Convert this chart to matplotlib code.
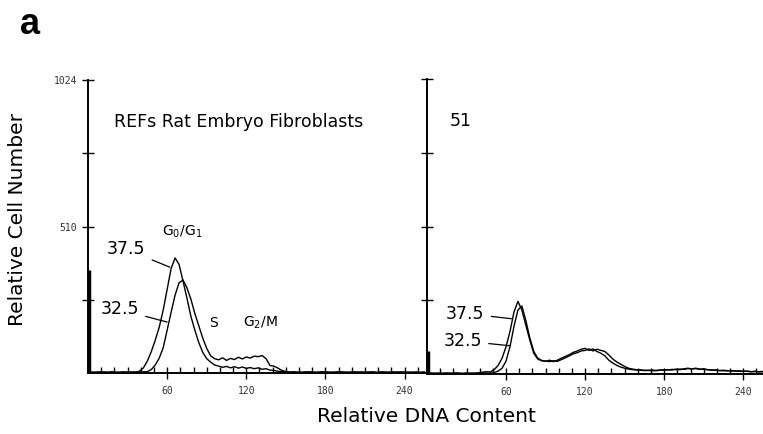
import numpy as np
import matplotlib
matplotlib.use("Agg")
import matplotlib.pyplot as plt
from matplotlib.ticker import MultipleLocator, FixedLocator

# ---------------------------------------------------------------------------
# Data (channel step 3)
# ---------------------------------------------------------------------------

channels = np.arange(0, 256, 3)

# REFs, left panel
ref_375 = [3, 2, 3, 4, 2, 3, 4, 2, 3, 3, 2, 4, 3,
           6, 18, 42, 75, 115, 160, 220, 292, 365, 402, 380, 322, 262, 198, 150, 106, 72, 50, 38, 28,
           24, 20, 23, 18, 22, 17, 21, 16, 19, 15, 18, 13, 15, 10, 9, 6, 5, 4,
           3, 4, 3, 2, 4, 3, 3, 2, 4, 3, 2, 3, 4, 3, 2, 3, 4, 3, 2, 3, 3, 4, 2, 3, 3, 2, 4, 3, 2, 3,
           3, 2, 3, 2, 3]
ref_325 = [2, 3, 2, 3, 4, 2, 3, 3, 2, 4, 3, 2, 3, 3, 4,
           5, 12, 28, 52, 88, 150, 212, 272, 315, 325, 298, 258, 208, 165, 122, 86, 60, 50,
           46, 53, 44, 51, 47, 55, 49, 56, 52, 59, 57, 61, 50, 26, 24, 17, 9, 5,
           3, 4, 2, 3, 3, 4, 2, 3, 3, 4, 3, 2, 3, 4, 3, 2, 3, 3, 4, 2, 3, 3, 2, 4, 3, 3, 2, 3, 4, 3,
           2, 3, 3, 2, 3]

# clone 51, right panel
c51_375 = [3, 2, 3, 2, 3, 3, 2, 4, 3, 2, 3, 3, 2, 4, 6, 8,
           7, 15, 30, 55, 95, 148, 215, 252, 222, 170, 118, 72, 52, 46, 44, 48, 43,
           48, 55, 61, 67, 75, 80, 86, 89, 82, 87, 78, 72, 63, 48, 38, 30, 24, 20,
           17, 15, 14, 13, 12, 13, 11, 12, 14, 13, 15, 14, 17, 15, 18, 20, 17, 19, 16, 18, 15, 14, 13,
           12, 13, 11, 12, 10, 11, 9, 10, 8, 9, 8, 9]
c51_325 = [2, 3, 2, 3, 2, 3, 3, 2, 3, 2, 3, 2, 3, 3, 4, 3,
           3, 5, 10, 20, 45, 95, 165, 222, 236, 186, 126, 79, 55, 47, 45, 43, 46,
           44, 50, 56, 63, 70, 74, 80, 82, 87, 80, 86, 82, 78, 66, 52, 42, 34, 26,
           20, 17, 15, 14, 13, 12, 14, 12, 13, 15, 14, 16, 15, 17, 16, 19, 18, 20, 17, 16, 15, 13, 14,
           12, 11, 12, 10, 11, 9, 10, 9, 8, 9, 7, 8]

# debris spike near channel 0
debris_ref = 360
debris_c51 = 80

x_major = [60, 120, 180, 240]
y_ticks = [256, 510, 768, 1024]
y_labels = ["", "510", "", "1024"]

W, H = 763, 434
TICK_FONT = dict(family="DejaVu Sans Mono", size=7, color="#333333")


def style_axis(ax, xmax, show_ylabels):
    ax.set_xlim(0, xmax)
    ax.set_ylim(0, 1024)
    for s in ("top", "right"):
        ax.spines[s].set_visible(False)
    ax.spines["left"].set_linewidth(1.4)
    ax.spines["bottom"].set_linewidth(1.4)
    ax.xaxis.set_major_locator(FixedLocator(x_major))
    ax.xaxis.set_minor_locator(MultipleLocator(10))
    ax.tick_params(axis="x", which="major", direction="inout", length=9, width=1.0, pad=5)
    ax.tick_params(axis="x", which="minor", direction="in", length=4, width=1.0)
    ax.set_xticklabels([str(v) for v in x_major], fontdict=TICK_FONT)
    ax.yaxis.set_major_locator(FixedLocator(y_ticks))
    ax.tick_params(axis="y", which="major", direction="inout", length=8, width=1.0, pad=4)
    if show_ylabels:
        ax.set_yticklabels(y_labels, fontdict=TICK_FONT)
    else:
        ax.set_yticklabels([])


fig = plt.figure(figsize=(W / 100, H / 100), dpi=100)
ax1 = fig.add_axes([88 / W, 61 / H, 339 / W, 293 / H])
ax2 = fig.add_axes([427 / W, 60 / H, 336 / W, 295 / H])

style_axis(ax1, 257, True)
style_axis(ax2, 255, False)

# left panel: REFs
ax1.plot(channels, ref_375, color="black", lw=1.0)
ax1.plot(channels, ref_325, color="black", lw=1.0)
ax1.vlines(1, 0, debris_ref, color="black", lw=2.5)

# right panel: 51
ax2.plot(channels, c51_375, color="black", lw=1.0)
ax2.plot(channels, c51_325, color="black", lw=1.0)
ax2.vlines(1, 0, debris_c51, color="black", lw=2.5)

arrow = dict(arrowstyle="-", lw=0.9, color="black", shrinkA=3, shrinkB=0)
ax1.annotate("37.5", xy=(62, 370), xytext=(29, 432), fontsize=12.5,
             ha="center", va="center", arrowprops=arrow)
ax1.annotate("32.5", xy=(60, 178), xytext=(24, 222), fontsize=12.5,
             ha="center", va="center", arrowprops=arrow)
ax1.text(71, 495, "G$_0$/G$_1$", fontsize=10, ha="center", va="center")
ax1.text(95, 175, "S", fontsize=10, ha="center", va="center")
ax1.text(131, 175, "G$_2$/M", fontsize=10, ha="center", va="center")
ax1.text(20, 878, "REFs Rat Embryo Fibroblasts", fontsize=12.5, ha="left", va="center")

ax2.annotate("37.5", xy=(64, 192), xytext=(29, 210), fontsize=12.5,
             ha="center", va="center", arrowprops=arrow)
ax2.annotate("32.5", xy=(63, 98), xytext=(27, 115), fontsize=12.5,
             ha="center", va="center", arrowprops=arrow)
ax2.text(17, 878, "51", fontsize=12.5, ha="left", va="center")

fig.text(18 / W, 1 - 220 / H, "Relative Cell Number", rotation=90,
         fontsize=14.5, ha="center", va="center")
fig.text(426 / W, 1 - 417 / H, "Relative DNA Content", fontsize=14.5,
         ha="center", va="center")
fig.text(20 / W, 1 - 34 / H, "a", fontsize=26, fontweight="bold",
         family="Liberation Sans", ha="left", va="baseline")

fig.savefig("out.png", dpi=100)
